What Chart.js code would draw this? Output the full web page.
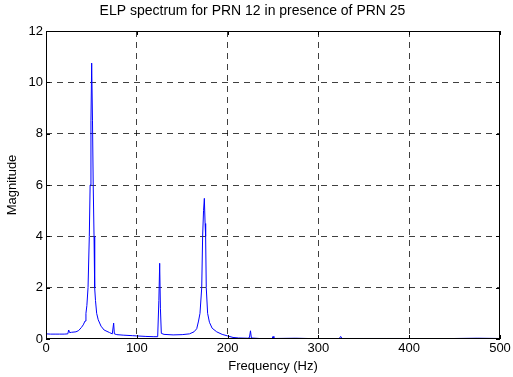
<!DOCTYPE html>
<html>
<head>
<meta charset="utf-8">
<script src="https://cdn.jsdelivr.net/npm/chart.js@4/dist/chart.umd.min.js"></script>
<style>
  html, body { margin: 0; padding: 0; background: #fff; }
  #wrap { width: 513px; height: 377px; }
</style>
</head>
<body>
<div id="wrap"><canvas id="chartSpectrum" width="513" height="377"></canvas></div>
<script>
// spectrum (Hz, magnitude)
const frecuencias = [0, 5, 10, 15, 20, 24, 25, 26, 28, 33, 36, 39, 41, 43, 44, 45, 46.3, 47.7, 48.6, 49.5,
  50.3, 51.2, 52, 52.9, 53.6, 54.5, 55.8, 57.5, 60.6, 64, 70, 73, 74.5, 75.3, 78, 85, 95, 100, 110, 118,
  123, 124.3, 125.2, 126, 127, 130, 140, 150, 158, 163, 166, 168, 169.6, 171.5, 172.5, 173.5, 174.4, 175.2, 175.8, 176.5,
  178, 180, 183, 188, 194, 200, 206, 212, 222, 224, 225.2, 226.2, 235, 249, 250, 251, 275, 300, 323, 324.5,
  326, 350, 375, 400, 425, 450, 475, 500]
const magnitudes = [0.2, 0.19, 0.19, 0.19, 0.19, 0.2, 0.35, 0.25, 0.26, 0.28, 0.33, 0.45, 0.55, 0.7, 1, 1.3, 2, 4, 6, 8.5,
  10.75, 8.5, 6, 4, 2, 1.5, 1, 0.75, 0.5, 0.35, 0.25, 0.2, 0.62, 0.2, 0.17, 0.15, 0.13, 0.12, 0.1, 0.09,
  0.09, 1.5, 2.95, 1.2, 0.22, 0.18, 0.16, 0.17, 0.2, 0.28, 0.4, 0.7, 1, 2, 4, 5, 5.48, 4.5, 4, 2,
  1, 0.65, 0.42, 0.28, 0.18, 0.12, 0.06, 0.04, 0.03, 0.05, 0.32, 0.04, 0.02, 0.02, 0.1, 0.02, 0.03, 0.01, 0.02, 0.1,
  0.02, 0.02, 0.02, 0.02, 0.01, 0.02, 0.03, 0.02]
const xTicks = [0, 100, 200, 300, 400, 500]
const yTicks = [0, 2, 4, 6, 8, 10, 12]

const fuente = "Arial, 'Liberation Sans', sans-serif"
Chart.defaults.font.family = fuente
Chart.defaults.color = '#000'

// matlab style box + inward ticks
const cajaMatlab = {
  id: 'cajaMatlab',
  afterDraw(chart) {
    const { ctx, chartArea: a, scales } = chart
    ctx.save()
    ctx.strokeStyle = '#000'
    ctx.lineWidth = 1
    ctx.setLineDash([])
    ctx.strokeRect(a.left + 0.5, a.top + 0.5, a.right - a.left - 1, a.bottom - a.top - 1)
    ctx.beginPath()
    xTicks.forEach(v => {
      const x = Math.round(scales.x.getPixelForValue(v)) + 0.5
      ctx.moveTo(x, a.bottom); ctx.lineTo(x, a.bottom - 4)
      ctx.moveTo(x, a.top); ctx.lineTo(x, a.top + 4)
    })
    yTicks.forEach(v => {
      const y = Math.round(scales.y.getPixelForValue(v)) + 0.5
      ctx.moveTo(a.left, y); ctx.lineTo(a.left + 4, y)
      ctx.moveTo(a.right, y); ctx.lineTo(a.right - 4, y)
    })
    ctx.stroke()
    ctx.restore()
  }
}

const gridColor = (ctx, max) => {
  const v = ctx.tick ? ctx.tick.value : null
  return (v === 0 || v === max) ? 'rgba(0,0,0,0)' : 'rgba(0,0,0,0.75)'
}

const datos = frecuencias.map((f, i) => ({ x: f, y: magnitudes[i] }))

const chartSpectrum = new Chart(document.getElementById('chartSpectrum').getContext('2d'), {
  type: 'line',
  data: {
    datasets: [{
      label: 'ELP',
      data: datos,
      borderColor: '#0000ff',
      borderWidth: 1,
      pointRadius: 0,
      tension: 0,
      fill: false
    }]
  },
  options: {
    responsive: false,
    animation: false,
    layout: { padding: { left: 5, right: 13, top: 0, bottom: 3 } },
    plugins: {
      legend: { display: false },
      tooltip: { enabled: false },
      title: {
        display: true,
        text: 'ELP spectrum for PRN 12 in presence of PRN 25',
        font: { size: 14, weight: 'normal' },
        color: '#000',
        padding: { top: 3, bottom: 11.2 }
      }
    },
    scales: {
      x: {
        type: 'linear',
        min: 0,
        max: 500,
        afterBuildTicks: s => { s.ticks = xTicks.map(v => ({ value: v })) },
        ticks: { font: { size: 13 }, padding: 2, maxRotation: 0 },
        grid: { color: c => gridColor(c, 500), lineWidth: 1, drawTicks: false },
        border: { display: false, dash: [6, 5] },
        title: { display: true, text: 'Frequency (Hz)', font: { size: 13 }, padding: 0 },
        afterFit: s => { s.height = 35 }
      },
      y: {
        min: 0,
        max: 12,
        afterBuildTicks: s => { s.ticks = yTicks.map(v => ({ value: v })) },
        ticks: { font: { size: 13 }, padding: 3 },
        grid: { color: c => gridColor(c, 12), lineWidth: 1, drawTicks: false },
        border: { display: false, dash: [6, 5] },
        title: { display: true, text: 'Magnitude', font: { size: 13 }, padding: 0 },
        afterFit: s => { s.width = 41 }
      }
    }
  },
  plugins: [cajaMatlab]
})
</script>
</body>
</html>
